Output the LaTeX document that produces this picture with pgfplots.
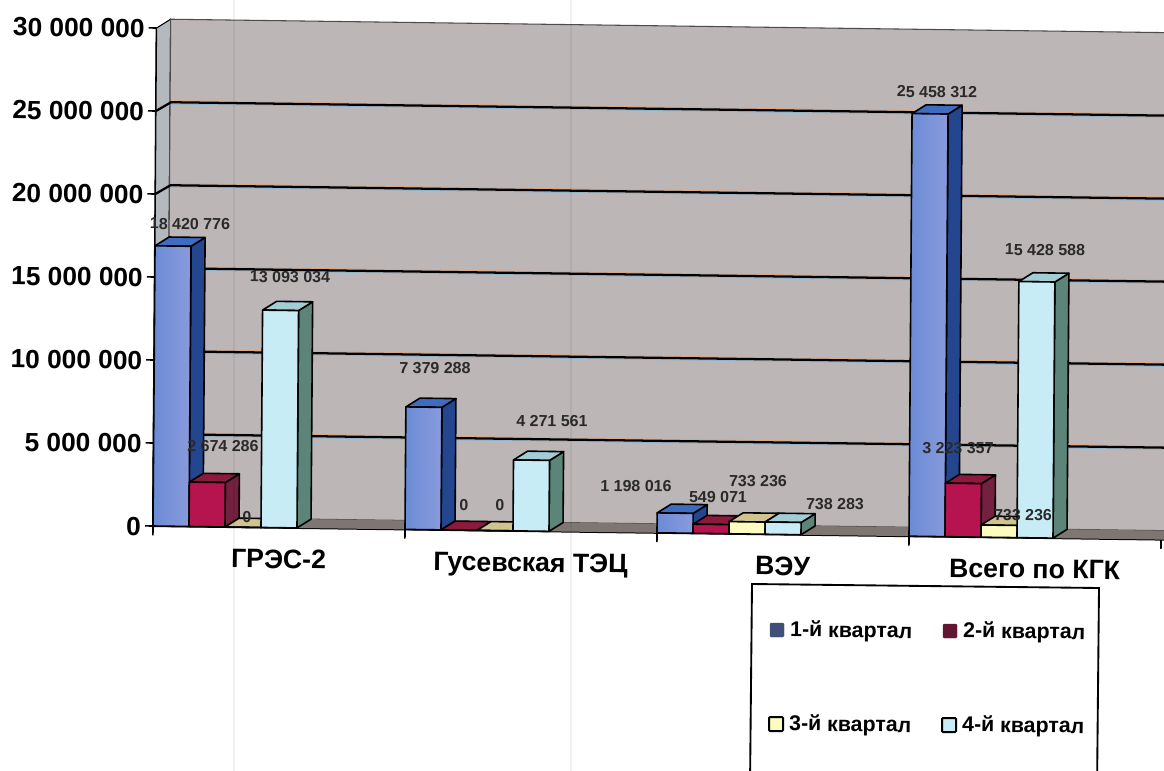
\documentclass[border=0pt]{standalone}
\usepackage{fontspec}
\setmainfont{Liberation Sans}
\usepackage{pgfplots}
\pgfplotsset{compat=1.18}
\definecolor{wall}{HTML}{BDB6B7}
\definecolor{sidewall}{HTML}{B4B9BD}
\definecolor{floorc}{HTML}{7E7672}
\definecolor{qal}{HTML}{6A8CD6}\definecolor{qa}{HTML}{8A9ADC}\definecolor{qas}{HTML}{24468F}\definecolor{qat}{HTML}{3F6CC0}
\definecolor{qb}{HTML}{B5144F}\definecolor{qbs}{HTML}{74203F}\definecolor{qbt}{HTML}{8C1A3C}
\definecolor{qc}{HTML}{FCFCC0}\definecolor{qcs}{HTML}{8A8A70}\definecolor{qct}{HTML}{CFC48F}
\definecolor{qd}{HTML}{C8ECF5}\definecolor{qds}{HTML}{5D8478}\definecolor{qdt}{HTML}{A3CDD5}
\definecolor{lab}{HTML}{2A2A2A}
\definecolor{fringea}{HTML}{DDA67E}\definecolor{fringeb}{HTML}{8FB4CE}
\definecolor{swa}{HTML}{3F4F7A}\definecolor{swb}{HTML}{611632}
% one bar: left edge, value, front style, side colour, top colour
\newcommand\barthree[5]{%
  \pgfmathsetmacro\xr{#1+36}\pgfmathsetmacro\xbr{#1+50}\pgfmathsetmacro\xbl{#1+14}%
  \pgfmathsetmacro\vb{#2+0.54}%
  \edef\temp{\noexpand\addplot[forget plot,fill=#4,draw=black,line width=1.2pt,line join=round] coordinates {(\xr,0) (\xbr,0.54) (\xbr,\vb) (\xr,#2)} -- cycle;
  \noexpand\addplot[forget plot,fill=#5,draw=black,line width=1.2pt,line join=round] coordinates {(#1,#2) (\xr,#2) (\xbr,\vb) (\xbl,\vb)} -- cycle;
  \noexpand\addplot[#3,draw=black,line width=1.2pt,line join=round] coordinates {(#1,0) (#1,#2) (\xr,#2) (\xr,0)} -- cycle;}\temp}
\newcommand\gridl[1]{%
  \pgfmathsetmacro\vb{#1+0.54}\pgfmathsetmacro\vu{#1+0.65}\pgfmathsetmacro\vd{#1+0.43}%
  \edef\temp{\noexpand\addplot[forget plot,fringea,line width=0.6pt] coordinates {(15,\vu) (1040,\vu)};
  \noexpand\addplot[forget plot,fringeb,line width=0.6pt] coordinates {(15,\vd) (1040,\vd)};
  \noexpand\addplot[forget plot,black,line width=1.7pt] coordinates {(0,#1) (15,\vb) (1040,\vb)};}\temp}
\newcommand\lbl[3]{\node[rotate=-0.75,font=\fontsize{12}{13}\selectfont\bfseries,text=lab,inner sep=0pt] at (#1,#2) {#3};}
\begin{document}
\begin{tikzpicture}[x=0.75pt,y=-0.75pt]
\useasboundingbox (0,0) rectangle (1164,771);
\clip (0,0) rectangle (1164,771);
\fill[white] (0,0) rectangle (1164,771);
\begin{axis}[
  at={(114.75pt,-394.5pt)},anchor=origin,
  x={(0.75pt,-0.0101pt)},y={(0.09pt,12.45pt)},
  xmin=0,xmax=1040,ymin=0,ymax=30,
  clip=false,
  axis y line*=left,axis x line*=bottom,
  axis line style={black,line width=1.5pt,-},
  tick align=outside,
  major tick length=6pt,
  major y tick style={black,line width=1.2pt},
  ytick={0,5,10,15,20,25,30},
  yticklabels={0,5 000 000,10 000 000,15 000 000,20 000 000,25 000 000,30 000 000},
  yticklabel style={font=\fontsize{19.7}{22}\selectfont\bfseries,rotate=-0.75,anchor=east,xshift=0.5pt,yshift=-0.5pt},
  xtick={126,378,630,882},
  xticklabels={ГРЭС-2,Гусевская ТЭЦ,ВЭУ,Всего по КГК},
  major x tick style={draw=none},
  minor xtick={0,252,504,756,1008},
  minor tick length=7pt,
  minor x tick style={black,line width=1.2pt},
  xticklabel style={font=\fontsize{20}{22}\selectfont\bfseries,rotate=-0.75,anchor=north,yshift=-7pt},
]
% walls and floor
\addplot[forget plot,fill=sidewall,draw=black,line width=0.8pt] coordinates {(0,0) (14,0.54) (14,30.54) (0,30)} -- cycle;
\addplot[forget plot,fill=wall,draw=black!70,line width=0.8pt] coordinates {(14,0.54) (1040,0.54) (1040,30.54) (14,30.54)} -- cycle;
\addplot[forget plot,fill=floorc,draw=none] coordinates {(0,0) (1040,0) (1040,0.54) (14,0.54)} -- cycle;
\gridl{5}\gridl{10}\gridl{15}\gridl{20}\gridl{25}
% 1st quarter
\barthree{0}{16.88}{left color=qal,right color=qa}{qas}{qat}
\barthree{252}{7.379288}{left color=qal,right color=qa}{qas}{qat}
\barthree{504}{1.198016}{left color=qal,right color=qa}{qas}{qat}
\barthree{756}{25.458312}{left color=qal,right color=qa}{qas}{qat}
% 2nd quarter
\barthree{36}{2.674286}{fill=qb}{qbs}{qbt}
\barthree{288}{0}{fill=qb}{qbs}{qbt}
\barthree{540}{0.549071}{fill=qb}{qbs}{qbt}
\barthree{792}{3.223357}{fill=qb}{qbs}{qbt}
% 3rd quarter
\barthree{72}{0}{fill=qc}{qcs}{qct}
\barthree{324}{0}{fill=qc}{qcs}{qct}
\barthree{576}{0.733236}{fill=qc}{qcs}{qct}
\barthree{828}{0.733236}{fill=qc}{qcs}{qct}
% 4th quarter
\barthree{108}{13.093034}{fill=qd}{qds}{qdt}
\barthree{360}{4.271561}{fill=qd}{qds}{qdt}
\barthree{612}{0.738283}{fill=qd}{qds}{qdt}
\barthree{864}{15.428588}{fill=qd}{qds}{qdt}
\end{axis}
% data labels
\lbl{190}{224}{18 420 776}
\lbl{223}{446}{2 674 286}
\lbl{247}{517}{0}
\lbl{290}{277}{13 093 034}
\lbl{435}{368}{7 379 288}
\lbl{464}{505}{0}
\lbl{500}{505}{0}
\lbl{552}{421}{4 271 561}
\lbl{636}{486}{1 198 016}
\lbl{718}{497}{549 071}
\lbl{758}{481}{733 236}
\lbl{835}{504}{738 283}
\lbl{937}{92}{25 458 312}
\lbl{1045}{250}{15 428 588}
\lbl{958}{448}{3 223 357}
\lbl{1023}{515}{733 236}
% legend
\draw[black,line width=1.4pt] (752,584) -- (1099,588) -- (1097,790) -- (750,786) -- cycle;
\foreach \xx/\yy/\cc/\dd/\ww/\tt in {770/630/swa/swa/0.2/1-й квартал,943/631/swb/swb/0.2/2-й квартал,769/724/qc/black/1.5/3-й квартал,942/725/qd/black/1.5/4-й квартал}{
  \filldraw[fill=\cc,draw=\dd,line width=\ww pt,rounded corners=0.8pt] (\xx,\yy-7) rectangle (\xx+14,\yy+7);
  \node[rotate=-0.75,anchor=west,inner sep=0pt,font=\fontsize{16}{17}\selectfont\bfseries] at (\xx+20,\yy+1) {\tt};
}
% scanner fold lines
\draw[black,opacity=0.06,line width=1pt] (234,0) -- (234,771);
\draw[black,opacity=0.06,line width=1pt] (571,0) -- (571,771);
\end{tikzpicture}
\end{document}
